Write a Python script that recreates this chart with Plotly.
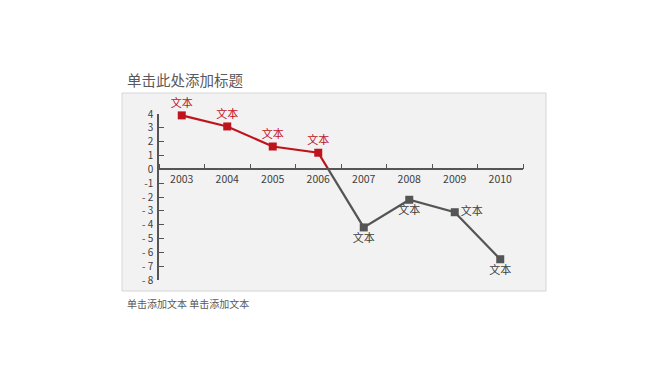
import plotly.graph_objects as go

# ---- data ----
years = ["2003", "2004", "2005", "2006", "2007", "2008", "2009", "2010"]
values = [3.9, 3.1, 1.65, 1.2, -4.2, -2.2, -3.1, -6.5]
point_labels = ["文本"] * 8
y_tickvals = [4, 3, 2, 1, 0, -1, -2, -3, -4, -5, -6, -7, -8]
y_ticktext = ["4", "3", "2", "1", "0", "-1", "- 2", "- 3", "- 4", "- 5", "- 6", "- 7", "- 8"]
title_text = "单击此处添加标题"
footer_text = "单击添加文本 单击添加文本"

W, H = 668, 376
RED = "#c0141c"
GRAY = "#555555"
FONT = "Noto Sans CJK SC"

idx = list(range(len(years)))
# split series at the zero crossing
pos_idx = [i for i, v in enumerate(values) if v >= 0]
neg_idx = [i for i, v in enumerate(values) if v < 0]
last_pos = pos_idx[-1]
first_neg = last_pos + 1
v0, v1 = values[last_pos], values[first_neg]
x_cross = last_pos + v0 / (v0 - v1)

red_x = pos_idx + [x_cross]
red_y = [values[i] for i in pos_idx] + [0]
gray_x = [x_cross] + neg_idx
gray_y = [0] + [values[i] for i in neg_idx]

def px(x):
    return x / W

def py(y):
    return 1 - y / H

y_range = [-8, 4]
ydom = [py(280), py(114)]
xdom = [px(159), px(523)]
xaxis_pos = ydom[0] + (0 - y_range[0]) / (y_range[1] - y_range[0]) * (ydom[1] - ydom[0])

fig = go.Figure()
fig.add_trace(go.Scatter(x=gray_x, y=gray_y, mode="lines", cliponaxis=False,
                         line=dict(color=GRAY, width=2.2), hoverinfo="skip"))
fig.add_trace(go.Scatter(x=red_x, y=red_y, mode="lines", cliponaxis=False,
                         line=dict(color=RED, width=2.2), hoverinfo="skip"))
fig.add_trace(go.Scatter(x=pos_idx, y=[values[i] for i in pos_idx], mode="markers+text",
                         cliponaxis=False,
                         marker=dict(symbol="square", size=8, color=RED),
                         text=[point_labels[i] for i in pos_idx],
                         textposition="top center",
                         textfont=dict(color=RED, size=11, family=FONT)))
neg_positions = ["bottom center", "bottom center", "middle right", "bottom center"]
fig.add_trace(go.Scatter(x=neg_idx, y=[values[i] for i in neg_idx], mode="markers+text",
                         cliponaxis=False,
                         marker=dict(symbol="square", size=8, color=GRAY),
                         text=[point_labels[i] for i in neg_idx],
                         textposition=neg_positions,
                         textfont=dict(color="#404040", size=11, family=FONT)))

# panel background
fig.add_shape(type="rect", xref="paper", yref="paper",
              x0=px(122), x1=px(546), y0=py(291), y1=py(93),
              fillcolor="#f2f2f2", line=dict(color="#d6d6d6", width=1), layer="below")

fig.add_annotation(text=title_text, xref="paper", yref="paper", x=px(125), y=py(80),
                   xanchor="left", yanchor="middle", showarrow=False,
                   font=dict(size=14.5, color="#595959", family=FONT))
fig.add_annotation(text=footer_text, xref="paper", yref="paper", x=px(125), y=py(303),
                   xanchor="left", yanchor="middle", showarrow=False,
                   font=dict(size=10, color="#595959", family=FONT))

fig.update_layout(
    width=W, height=H, margin=dict(l=0, r=0, t=0, b=0),
    paper_bgcolor="white", plot_bgcolor="rgba(0,0,0,0)",
    showlegend=False, font=dict(family=FONT, color="#404040"),
    xaxis=dict(domain=xdom, range=[-0.5, len(years) - 0.5], anchor="free", position=xaxis_pos,
               tickmode="array", tickvals=idx, ticktext=years, ticks="", ticklen=0,
               minor=dict(tick0=-0.5, dtick=1, ticks="inside", ticklen=5,
                          tickcolor=GRAY, tickwidth=1.2, showgrid=False),
               showline=True, linecolor=GRAY, linewidth=1.5, showgrid=False, zeroline=False,
               tickfont=dict(size=10.5, color="#404040", family=FONT), automargin=False),
    yaxis=dict(domain=ydom, range=y_range, tickmode="array", tickvals=y_tickvals,
               ticktext=y_ticktext, ticks="inside", ticklen=5, tickcolor=GRAY, tickwidth=1.2,
               showline=True, linecolor=GRAY, linewidth=1.5, showgrid=False, zeroline=False,
               ticklabelstandoff=2,
               tickfont=dict(size=10, color="#404040", family=FONT), automargin=False),
)

fig.write_html("out.html", config={"displayModeBar": False},
               post_script="document.body.style.margin='0';document.body.style.overflow='hidden';")
